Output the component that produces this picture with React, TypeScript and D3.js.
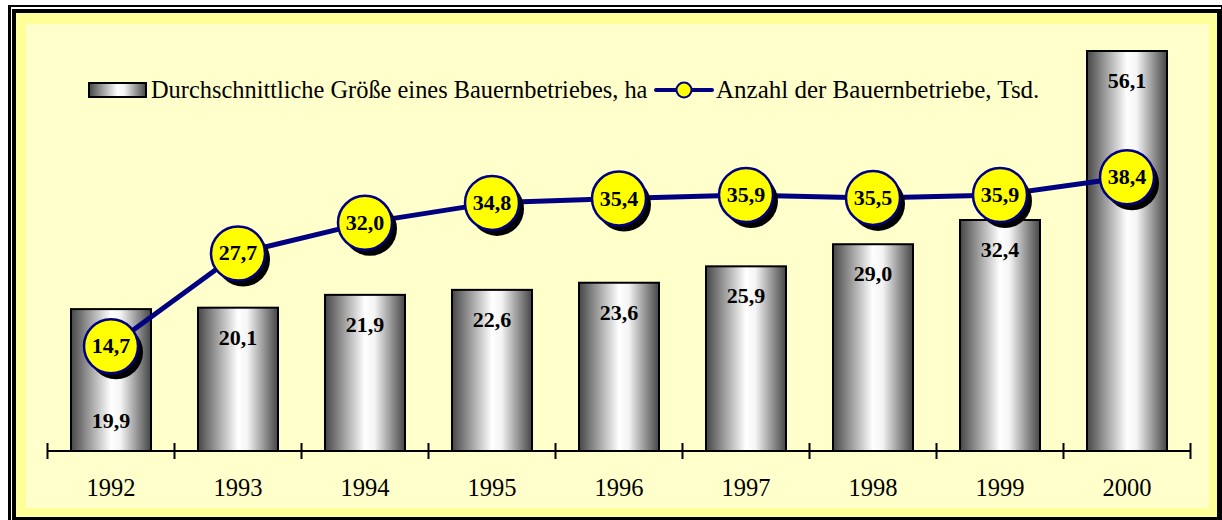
import React from 'react'
import * as d3 from 'd3'

const years = ['1992', '1993', '1994', '1995', '1996', '1997', '1998', '1999', '2000']
const farmSize = [19.9, 20.1, 21.9, 22.6, 23.6, 25.9, 29.0, 32.4, 56.1]
const farmCount = [14.7, 27.7, 32.0, 34.8, 35.4, 35.9, 35.5, 35.9, 38.4]
const legendLabels = ['Durchschnittliche Größe eines Bauernbetriebes, ha', 'Anzahl der Bauernbetriebe, Tsd.']

const W = 1222
const H = 520
const fmt = (v: number) => v.toFixed(1).replace('.', ',')

const App = () => {
  const svgRef = React.useRef<SVGSVGElement>(null)

  React.useEffect(() => {
    const svg = d3.select(svgRef.current)
    svg.selectAll('*').remove()

    const defs = svg.append('defs')
    const grad = defs.append('linearGradient').attr('id', 'barGrad')
      .attr('x1', '0%').attr('x2', '100%').attr('y1', '0%').attr('y2', '0%')
    ;[[0, '#464646'], [0.18, '#8a8a8a'], [0.5, '#ffffff'], [0.62, '#f4f4f4'], [0.85, '#8a8a8a'], [1, '#464646']]
      .forEach(([o, c]) => grad.append('stop').attr('offset', o as number).attr('stop-color', c as string))

    // frame
    svg.append('rect').attr('x', 8).attr('y', 5).attr('width', W).attr('height', H).attr('fill', '#000')
    svg.append('rect').attr('x', 11).attr('y', 7).attr('width', 1210).attr('height', H).attr('fill', '#fff')
    svg.append('rect').attr('x', 12).attr('y', 9).attr('width', 1209).attr('height', H).attr('fill', '#000')
    svg.append('rect').attr('x', 16).attr('y', 13).attr('width', 1201).attr('height', 504).attr('fill', '#ffff99')
    svg.append('rect').attr('x', 26).attr('y', 24).attr('width', 1183).attr('height', 484).attr('fill', '#ffffcc')

    const x = d3.scaleBand().domain(years).range([47.5, 1190.5]).paddingInner(0.37).paddingOuter(0.185)
    const xc = (d: string) => (x(d) as number) + x.bandwidth() / 2
    const y = d3.scaleLinear().domain([0, 60]).range([451, 23.2])
    const band = (1190.5 - 47.5) / years.length

    const font = "'Liberation Serif', 'Times New Roman', Times, serif"

    // bars
    const bars = svg.append('g')
    bars.selectAll('rect').data(years).join('rect')
      .attr('x', (d) => x(d) as number)
      .attr('y', (d, i) => y(farmSize[i]))
      .attr('width', x.bandwidth())
      .attr('height', (d, i) => y(0) - y(farmSize[i]))
      .attr('fill', 'url(#barGrad)')
      .attr('stroke', '#000')
      .attr('stroke-width', 2)

    // axis
    const ax = svg.append('g').attr('stroke', '#000').attr('stroke-width', 2)
    ax.append('line').attr('x1', 47.5).attr('x2', 1190.5).attr('y1', y(0)).attr('y2', y(0))
    d3.range(years.length + 1).forEach((i) => {
      const tx = 47.5 + i * band
      ax.append('line').attr('x1', tx).attr('x2', tx).attr('y1', y(0) - 8).attr('y2', y(0) + 8)
    })
    svg.append('g').selectAll('text').data(years).join('text')
      .attr('x', xc).attr('y', 496)
      .attr('text-anchor', 'middle')
      .style('font-family', font).attr('font-size', 24.5)
      .text((d) => d)

    // bar labels (moved to bottom when the line marker covers the top)
    svg.append('g').selectAll('text').data(years).join('text')
      .attr('x', xc)
      .attr('y', (d, i) => (y(farmCount[i]) > y(farmSize[i]) - 10 && y(farmCount[i]) < y(farmSize[i]) + 70
        ? y(0) - 23 : y(farmSize[i]) + 37))
      .attr('text-anchor', 'middle')
      .style('font-family', font).attr('font-size', 22).attr('font-weight', 'bold')
      .text((d, i) => fmt(farmSize[i]))

    // line
    const line = d3.line<number>().x((d, i) => xc(years[i])).y((d) => y(d))
    svg.append('path').datum(farmCount)
      .attr('d', line)
      .attr('fill', 'none').attr('stroke', '#000080').attr('stroke-width', 5)

    const mk = svg.append('g').selectAll('g').data(farmCount).join('g')
      .attr('transform', (d, i) => `translate(${xc(years[i])},${y(d)})`)
    mk.append('circle').attr('cx', 5).attr('cy', 6).attr('r', 27).attr('fill', '#000')
    mk.append('circle').attr('r', 27).attr('fill', '#ffff00').attr('stroke', '#000080').attr('stroke-width', 2.5)
    mk.append('text').attr('y', 7).attr('text-anchor', 'middle')
      .style('font-family', font).attr('font-size', 22).attr('font-weight', 'bold')
      .text((d) => fmt(d))

    // legend
    const lg = svg.append('g').style('font-family', font).attr('font-size', 24.4)
    lg.append('rect').attr('x', 89).attr('y', 83).attr('width', 57).attr('height', 14)
      .attr('fill', 'url(#barGrad)').attr('stroke', '#000').attr('stroke-width', 2)
    lg.append('text').attr('x', 151).attr('y', 98).text(legendLabels[0])
    lg.append('line').attr('x1', 656).attr('x2', 712).attr('y1', 90).attr('y2', 90)
      .attr('stroke', '#000080').attr('stroke-width', 4).attr('stroke-linecap', 'round')
    lg.append('circle').attr('cx', 684).attr('cy', 90).attr('r', 7.5)
      .attr('fill', '#ffff00').attr('stroke', '#000080').attr('stroke-width', 2)
    lg.append('text').attr('x', 716).attr('y', 98).attr('font-size', 25).text(legendLabels[1])
  }, [])

  return (
    <svg
      ref={svgRef}
      width={W}
      height={H}
      style={{ position: 'absolute', left: 0, top: 0, display: 'block' }}
    />
  )
}

export default App
